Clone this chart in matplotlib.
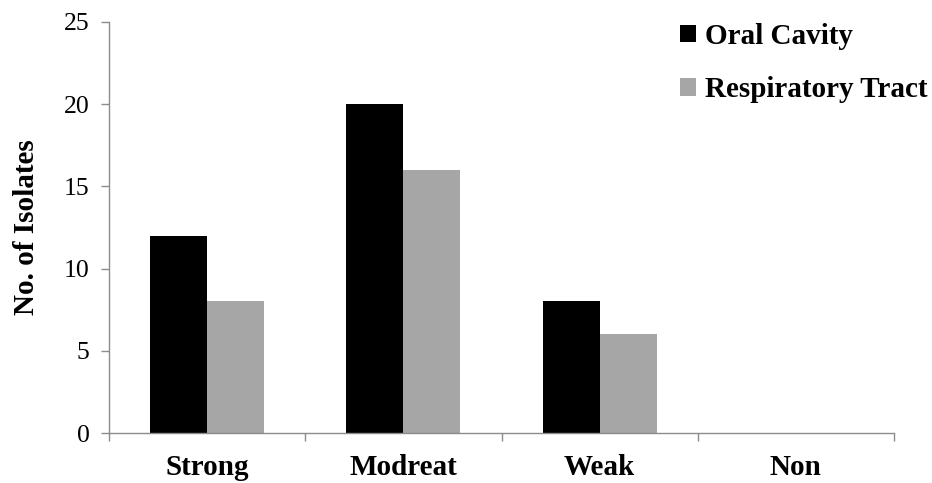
import matplotlib
matplotlib.use("Agg")
import matplotlib.pyplot as plt
import numpy as np

categories = ["Strong", "Modreat", "Weak", "Non"]
oral_cavity = [12, 20, 8, 0]
respiratory_tract = [8, 16, 6, 0]
series_names = ["Oral Cavity", "Respiratory Tract"]
y_ticks = [0, 5, 10, 15, 20, 25]

plt.rcParams['font.family'] = ['Liberation Serif', 'DejaVu Serif']

fig = plt.figure(figsize=(9.32, 4.83), dpi=100)
ax = fig.add_axes([109/932, 1-433/483, (894-109)/932, (433-22)/483])

x = np.arange(len(categories))
w = 0.29
b1 = ax.bar(x - w/2, oral_cavity, w, color="#000000", label=series_names[0])
b2 = ax.bar(x + w/2, respiratory_tract, w, color="#a6a6a6", label=series_names[1])

ax.set_xlim(-0.5, len(categories) - 0.5)
ax.set_ylim(0, 25)
ax.set_yticks(y_ticks)
ax.set_yticklabels([str(v) for v in y_ticks], fontsize=18.5)

ax.set_xticks(np.arange(len(categories) + 1) - 0.5)
ax.set_xticklabels([])
ax.set_xticks(x, minor=True)
ax.set_xticklabels(categories, minor=True, fontsize=21, fontweight="bold")
ax.tick_params(axis="x", which="minor", length=0, pad=15)
ax.tick_params(axis="x", which="major", length=6, color="#8c8c8c", width=1)
ax.tick_params(axis="y", length=6, color="#8c8c8c", width=1, pad=8)

for s in ["top", "right"]:
    ax.spines[s].set_visible(False)
for s in ["left", "bottom"]:
    ax.spines[s].set_color("#8c8c8c")
    ax.spines[s].set_linewidth(1)

ax.set_ylabel("No. of Isolates", fontsize=21, fontweight="bold", labelpad=17)

leg = fig.legend(handles=[b1, b2], loc="upper left", bbox_to_anchor=(680/932, 1 - 23/483),
                 frameon=False, prop={"size": 21, "weight": "bold"},
                 handlelength=0.55, handleheight=0.55, handletextpad=0.3, labelspacing=0.9,
                 borderaxespad=0, borderpad=0)

fig.savefig("out.png", dpi=100)
